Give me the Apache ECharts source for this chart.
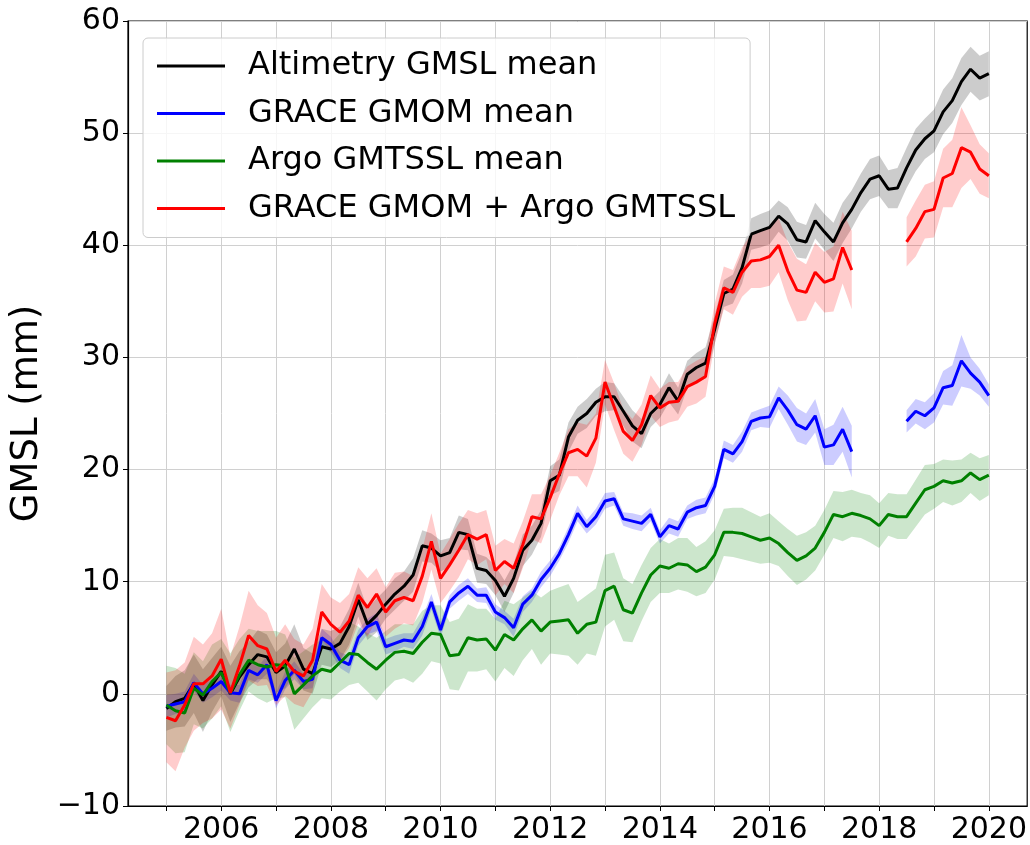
<!DOCTYPE html>
<html>
<head>
<meta charset="utf-8">
<script src="https://cdn.jsdelivr.net/npm/echarts@6/dist/echarts.min.js"></script>
<style>
html, body { margin: 0; padding: 0; background: #fff; }
#main { width: 1030px; height: 845px; }
</style>
</head>
<body>
<div id="main"></div>
<script>
// sampling grid: every 2 months from 2005.0 to 2020.0
const years = Array.from({ length: 91 }, (_, i) => 2005 + i / 6);

const tickYears = [2005, 2006, 2007, 2008, 2009, 2010, 2011, 2012, 2013, 2014, 2015, 2016, 2017, 2018, 2019, 2020];
const labelYears = [2006, 2008, 2010, 2012, 2014, 2016, 2018, 2020];

const altimetry = [
  -1.3, -0.7, -0.4, 0.9, -0.6, 0.8,
  2.0, 0.0, 1.5, 2.6, 3.5, 3.3,
  1.9, 2.5, 4.0, 2.2, 1.8, 4.2,
  4.0, 4.5, 6.0, 8.4, 6.2, 7.0,
  8.0, 8.9, 9.6, 10.6, 13.2, 13.0,
  12.3, 12.6, 14.4, 14.2, 11.2, 11.0,
  10.1, 8.7, 10.3, 12.8, 13.7, 15.2,
  19.0, 19.5, 22.9, 24.4, 25.0, 26.0,
  26.5, 26.5, 25.2, 23.9, 23.2, 25.0,
  25.8, 27.3, 26.1, 28.5, 29.1, 29.5,
  32.5, 35.7, 36.1, 38.0, 41.0, 41.3,
  41.6, 42.6, 41.9, 40.5, 40.3, 42.2,
  41.2, 40.3, 42.0, 43.2, 44.7, 45.9,
  46.2, 45.0, 45.1, 46.9, 48.5, 49.5,
  50.2, 51.9, 52.9, 54.6, 55.7, 54.9,
  55.3
];
const altimetryUnc = [
  2.0, 2.3, 2.5, 2.6, 2.8, 2.4, 2.2, 2.5, 2.3, 2.0, 2.2, 2.0, 1.8, 2.0, 2.2, 1.9, 1.8, 1.6,
  1.6, 1.5, 1.6, 1.5, 1.4, 1.5, 1.3, 1.4, 1.3, 1.5, 1.4, 1.3, 1.4, 1.3, 1.5, 1.4, 1.3, 1.2,
  1.3, 1.4, 1.3, 1.4, 1.3, 1.2, 1.3, 1.4, 1.3, 1.2, 1.3, 1.2, 1.3, 1.2, 1.3, 1.4, 1.3, 1.2,
  1.2, 1.3, 1.2, 1.2, 1.3, 1.4, 1.3, 1.2, 1.3, 1.4, 1.4, 1.5, 1.5, 1.4, 1.5, 1.6, 1.5, 1.6,
  1.6, 1.7, 1.8, 1.7, 1.7, 1.8, 1.8, 1.7, 1.8, 1.8, 1.9, 1.8, 1.9, 2.0, 2.0, 2.1, 2.0, 2.0,
  2.0
];

const grace = [
  -1.1, -0.9, -0.7, 1.0, 0.0, 0.5,
  1.1, 0.1, 0.0, 2.1, 1.7, 2.6,
  -0.6, 1.2, 2.1, 1.1, 1.3, 5.0,
  4.4, 3.0, 2.6, 5.0, 6.0, 6.4,
  4.2, 4.5, 4.8, 4.7, 6.0, 8.2,
  5.7, 8.2, 9.0, 9.6, 8.8, 8.8,
  7.3, 6.8, 5.9, 8.0, 8.8, 10.2,
  11.2, 12.5, 14.2, 16.1, 14.9, 15.8,
  17.2, 17.4, 15.6, 15.4, 15.2, 16.0,
  14.0, 15.0, 14.7, 16.2, 16.6, 16.8,
  18.5, 21.8, 21.4, 22.5, 24.3, 24.6,
  24.7, 26.4, 25.3, 24.0, 23.6, 24.8,
  22.0, 22.2, 23.6, 21.6, null, null,
  null, null, null, 24.3, 25.2, 24.8,
  25.5, 27.3, 27.5, 29.7, 28.6, 27.8,
  26.6
];
const graceUnc = [
  1.0, 0.9, 0.9, 0.8, 0.8, 0.8, 0.8, 0.7, 0.8, 0.8, 0.7, 0.8, 0.7, 0.8, 0.8, 0.7, 0.8, 0.8,
  0.7, 0.7, 0.8, 0.7, 0.7, 0.8, 0.7, 0.7, 0.6, 0.7, 0.8, 0.7, 0.7, 0.6, 0.7, 0.7, 0.6, 0.7,
  0.7, 0.6, 0.8, 0.7, 0.6, 0.7, 0.7, 0.6, 0.7, 0.7, 0.6, 0.7, 0.7, 0.6, 0.6, 0.7, 0.7, 0.6,
  0.6, 0.7, 0.7, 0.6, 0.7, 0.7, 0.7, 0.8, 0.8, 0.9, 0.8, 0.8, 1.0, 1.0, 1.3, 1.5, 1.4, 1.5,
  1.6, 1.8, 2.0, 2.3, null, null, null, null, null, 1.0, 1.1, 1.2, 1.3, 1.5, 1.8, 2.3, 1.4, 1.2,
  1.0
];

const argo = [
  -1.0, -1.5, -1.7, 0.5, -0.1, 1.1,
  1.9, 0.1, 1.7, 3.0, 2.6, 2.4,
  2.6, 2.5, 0.0, 0.8, 1.6, 2.2,
  2.0, 2.8, 3.6, 3.5, 2.8, 2.2,
  3.0, 3.7, 3.8, 3.6, 4.6, 5.4,
  5.3, 3.4, 3.5, 5.0, 4.8, 4.9,
  3.9, 5.3, 4.8, 5.8, 6.6, 5.6,
  6.4, 6.5, 6.6, 5.4, 6.2, 6.4,
  9.2, 9.6, 7.5, 7.2, 9.0, 10.6,
  11.4, 11.2, 11.6, 11.5, 10.9, 11.3,
  12.4, 14.4, 14.4, 14.3, 14.0, 13.7,
  13.9, 13.4, 12.6, 11.9, 12.3, 13.0,
  14.4, 16.0, 15.8, 16.1, 15.9, 15.6,
  15.0, 16.0, 15.8, 15.8, 17.0, 18.2,
  18.5, 19.0, 18.8, 19.0, 19.7, 19.1,
  19.5
];
const argoUnc = [
  3.5, 3.8, 3.5, 3.2, 3.0, 3.3, 3.0, 3.5, 3.2, 2.8, 3.0, 3.2, 3.0, 2.8, 3.2, 3.0, 2.8, 2.6,
  2.5, 2.6, 2.8, 2.5, 2.6, 2.8, 2.6, 2.5, 2.4, 2.6, 2.8, 2.5, 2.6, 3.0, 3.2, 3.0, 2.8, 2.7,
  2.8, 3.0, 3.2, 2.8, 2.6, 3.0, 2.8, 3.0, 3.2, 2.8, 2.6, 3.0, 3.2, 3.0, 2.8, 2.6, 2.5, 2.4,
  2.4, 2.2, 2.3, 2.4, 2.2, 2.3, 2.2, 2.1, 2.2, 2.3, 2.2, 2.1, 2.2, 2.0, 2.1, 2.2, 2.1, 2.0,
  2.0, 2.1, 2.2, 2.1, 2.0, 2.1, 2.0, 1.9, 2.0, 2.0, 2.1, 2.2, 2.0, 1.9, 2.0, 1.9, 1.8, 1.9,
  1.8
];

const graceArgo = [
  -2.1, -2.4, -1.0, 0.9, 0.9, 1.6,
  3.1, 0.1, 2.5, 5.2, 4.3, 4.0,
  2.0, 3.0, 2.0, 1.6, 3.0, 7.3,
  6.2, 5.5, 6.5, 8.8, 7.7, 8.9,
  7.3, 8.3, 8.6, 8.3, 10.5, 13.6,
  10.3, 11.5, 12.8, 14.2, 13.8, 14.2,
  11.0, 11.8, 11.2, 13.3, 15.8, 15.6,
  17.5, 19.6, 21.5, 21.8, 21.2, 22.8,
  27.8, 25.6, 23.4, 22.6, 24.0, 26.6,
  25.5, 26.0, 26.1, 27.4, 27.8, 28.3,
  33.0, 36.2, 35.8, 37.6, 38.6, 38.7,
  39.0, 40.0, 37.7, 36.0, 35.8, 37.6,
  36.7, 37.0, 39.8, 37.8, null, null,
  null, null, null, 40.3, 41.5, 43.0,
  43.2, 46.0, 46.4, 48.7, 48.3, 46.8,
  46.2
];
const graceArgoUnc = [
  4.0, 4.5, 3.8, 4.2, 3.5, 3.8, 4.5, 3.2, 3.5, 4.0, 3.6, 3.2, 3.0, 3.2, 2.9, 2.8, 2.8, 2.5,
  2.4, 2.6, 2.4, 2.5, 2.6, 2.3, 2.2, 2.5, 2.3, 2.2, 2.4, 2.5, 2.2, 2.3, 2.4, 2.2, 2.3, 2.2,
  2.2, 2.0, 2.2, 2.1, 2.0, 2.2, 2.0, 1.9, 2.1, 2.4, 2.8, 2.2, 2.0, 2.1, 2.0, 1.9, 1.8, 1.8,
  1.7, 1.8, 1.7, 1.8, 1.9, 1.8, 1.8, 1.9, 2.0, 2.2, 2.4, 2.5, 2.6, 2.4, 2.6, 2.8, 2.5, 2.6,
  2.7, 2.9, 3.2, 3.5, null, null, null, null, null, 2.2, 2.5, 2.4, 2.5, 2.6, 3.0, 3.6, 2.4, 2.2,
  2.0
];

const FONT = 'DejaVu Sans';

// shaded uncertainty band (mean +/- unc), drawn as one polygon per contiguous run
function band(mean, unc, color) {
  const data = years.map((t, i) => mean[i] == null ? [t, null, null] : [t, mean[i] - unc[i], mean[i] + unc[i]]);
  return {
    type: 'custom',
    silent: true,
    z: 1,
    encode: { x: 0, y: [1, 2] },
    data: data,
    renderItem: function (params, api) {
      if (params.dataIndex !== 0) return null;
      const runs = [];
      let cur = [];
      data.forEach(d => {
        if (d[1] == null) { if (cur.length) runs.push(cur); cur = []; }
        else cur.push(d);
      });
      if (cur.length) runs.push(cur);
      return {
        type: 'group',
        children: runs.map(run => {
          const up = run.map(d => api.coord([d[0], d[2]]));
          const lo = run.slice().reverse().map(d => api.coord([d[0], d[1]]));
          return { type: 'polygon', shape: { points: up.concat(lo) }, style: { fill: color } };
        })
      };
    }
  };
}

function meanLine(name, mean, color) {
  return {
    name: name,
    type: 'line',
    z: 2,
    symbol: 'none',
    data: years.map((t, i) => [t, mean[i]]),
    lineStyle: { color: color, width: 3 },
    itemStyle: { color: color }
  };
}

let option = {
  animation: false,
  backgroundColor: '#fff',
  grid: {
    left: 128, right: 2, top: 21, bottom: 35,
    show: true, borderColor: '#000', borderWidth: 1.2
  },
  legend: {
    orient: 'vertical',
    left: 143, top: 38,
    padding: [9, 15, 10, 14],
    itemWidth: 68, itemHeight: 3, itemGap: 9.5,
    icon: 'rect',
    selectedMode: false,
    backgroundColor: 'rgba(255,255,255,0.8)',
    borderColor: '#cccccc', borderWidth: 1, borderRadius: 5,
    textStyle: { fontSize: 32, color: '#000', fontFamily: FONT, padding: [0, 0, 0, 18], lineHeight: 38 },
    data: ['Altimetry GMSL mean', 'GRACE GMOM mean', 'Argo GMTSSL mean', 'GRACE GMOM + Argo GMTSSL']
  },
  xAxis: {
    type: 'value',
    min: 2004.3, max: 2020.7,
    axisLine: { show: true, onZero: false, lineStyle: { color: '#000', width: 1.2 } },
    axisTick: { show: true, customValues: tickYears, length: 5, lineStyle: { color: '#000' } },
    axisLabel: {
      customValues: labelYears, fontSize: 30, color: '#000', fontFamily: FONT, margin: 9,
      formatter: v => String(v)
    },
    splitLine: { show: true, lineStyle: { color: '#d0d0d0', width: 1 } }
  },
  yAxis: {
    type: 'value',
    min: -10, max: 60, interval: 10,
    name: 'GMSL (mm)',
    nameLocation: 'middle', nameRotate: 90, nameGap: 80,
    nameTextStyle: { fontSize: 37, color: '#000', fontFamily: FONT },
    axisLine: { show: true, lineStyle: { color: '#000', width: 1.2 } },
    axisTick: { show: true, length: 5, lineStyle: { color: '#000' } },
    axisLabel: {
      fontSize: 30, color: '#000', fontFamily: FONT, margin: 8,
      formatter: v => v < 0 ? '\u2212' + Math.abs(v) : String(v)
    },
    splitLine: { show: true, lineStyle: { color: '#d0d0d0', width: 1 } }
  },
  series: [
    band(altimetry, altimetryUnc, 'rgba(0,0,0,0.2)'),
    band(grace, graceUnc, 'rgba(0,0,255,0.2)'),
    band(argo, argoUnc, 'rgba(0,128,0,0.2)'),
    band(graceArgo, graceArgoUnc, 'rgba(255,0,0,0.2)'),
    meanLine('Altimetry GMSL mean', altimetry, '#000000'),
    meanLine('GRACE GMOM mean', grace, '#0000ff'),
    meanLine('Argo GMTSSL mean', argo, '#008000'),
    meanLine('GRACE GMOM + Argo GMTSSL', graceArgo, '#ff0000')
  ]
};

let myChart = echarts.init(document.getElementById('main'));
myChart.setOption(option);
</script>
</body>
</html>
